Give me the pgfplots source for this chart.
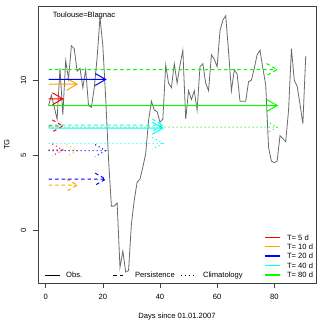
\documentclass[border=0pt]{standalone}
\usepackage{fontspec}
\setmainfont{Liberation Sans}
\usepackage{pgfplots}
\usepackage{pgfplotstable}
\pgfplotsset{compat=1.18}
\definecolor{rorange}{HTML}{FFA500}
\definecolor{rgreen}{HTML}{00FF00}
\definecolor{rcyan}{HTML}{00FFFF}
\definecolor{obsgray}{HTML}{6A6A6A}
\tikzset{
  obsl/.style={line width=1bp},
  pers/.style={line width=1bp, dash pattern=on 3.5bp off 3bp},
  clim/.style={line width=1bp, dash pattern=on 1bp off 3bp},
}

% daily mean temperature, Toulouse-Blagnac, days 1..91 of 2007
\pgfplotstableread{
d T
1 8.3
2 9.0
3 8.2
4 7.4
5 10.8
6 7.7
7 11.3
8 10.1
9 12.3
10 12.1
11 10.6
12 10.8
13 9.5
14 10.7
15 8.3
16 8.2
17 9.5
18 11.5
19 14.2
20 12.3
21 8.8
22 4.7
23 1.6
24 1.6
25 1.8
26 -2.5
27 -1.4
28 -2.8
29 -2.7
30 0.4
31 2.0
32 3.2
33 3.4
34 4.2
35 5.1
36 7.3
37 8.6
38 8.0
39 7.9
40 7.2
41 7.4
42 11.0
43 9.8
44 9.5
45 11.1
46 9.8
47 11.0
48 12.0
49 7.4
50 9.3
51 8.7
52 9.3
53 8.0
54 10.9
55 11.1
56 9.8
57 9.3
58 11.7
59 11.4
60 10.9
61 13.3
62 14.0
63 14.3
64 11.9
65 9.3
66 10.7
67 10.4
68 8.6
69 8.6
70 8.6
71 9.9
72 10.0
73 10.8
74 11.7
75 12.0
76 10.8
77 9.7
78 5.5
79 4.6
80 4.5
81 4.6
82 6.3
83 6.1
84 5.9
85 8.0
86 12.1
87 10.0
88 9.6
89 8.4
90 7.1
91 11.6
}\obs

\begin{document}
\fontsize{7.6bp}{9bp}\selectfont
\begin{tikzpicture}
\begin{axis}[
  scale only axis, width=278bp, height=277bp,
  xmin=-2.69, xmax=94.6, ymin=-3.53, ymax=14.95,
  xtick={0,20,40,60,80}, ytick={0,5,10,15},
  tick pos=left, tick align=outside, major tick length=5bp,
  axis line style={black!75, line width=0.6bp},
  every tick/.style={black!75, line width=0.6bp},
  /pgf/number format/assume math mode=true,
  ticklabel style={font=\fontsize{7.6bp}{9bp}\selectfont},
  xticklabel style={yshift=-3.5bp},
  yticklabel style={xshift=-4bp, rotate=90, anchor=south},
  xlabel={Days since 01.01.2007}, ylabel={TG},
  xlabel style={at={(axis description cs:0.5,-0.1217)}, anchor=center},
  ylabel style={at={(axis description cs:-0.112,0.5)}, anchor=center},
  unbounded coords=jump,
]
\addplot[obsgray, line width=0.8bp] table[x=d, y=T] {\obs};

% T = 5 d
\addplot[red, obsl] coordinates {(1,8.76) (6,8.76) (nan,nan) (2.33,9.16) (6,8.76) (2.33,8.36)};
\addplot[red, pers] coordinates {(1,6.95) (6,6.95) (nan,nan) (2.33,7.35) (6,6.95) (2.33,6.55)};
\addplot[red, clim] coordinates {(1,5.35) (6,5.35) (nan,nan) (2.33,5.75) (6,5.35) (2.33,4.95)};
% T = 10 d
\addplot[rorange, obsl] coordinates {(1,9.73) (11,9.73) (nan,nan) (7.33,10.13) (11,9.73) (7.33,9.33)};
\addplot[rorange, pers] coordinates {(1,3.0) (11,3.0) (nan,nan) (7.33,3.4) (11,3.0) (7.33,2.6)};
\addplot[rorange, clim] coordinates {(1,5.3) (11,5.3) (nan,nan) (7.33,5.7) (11,5.3) (7.33,4.9)};
% T = 20 d
\addplot[blue, obsl] coordinates {(1,10.05) (21,10.05) (nan,nan) (17.33,10.45) (21,10.05) (17.33,9.65)};
\addplot[blue, pers] coordinates {(1,3.4) (21,3.4) (nan,nan) (17.33,3.8) (21,3.4) (17.33,3.0)};
\addplot[blue, clim] coordinates {(1,5.3) (21,5.3) (nan,nan) (17.33,5.7) (21,5.3) (17.33,4.9)};
% T = 40 d
\addplot[rcyan, obsl] coordinates {(1,6.8) (41,6.8) (nan,nan) (37.33,7.2) (41,6.8) (37.33,6.4)};
\addplot[rcyan, pers] coordinates {(1,7.0) (41,7.0) (nan,nan) (37.33,7.4) (41,7.0) (37.33,6.6)};
\addplot[rcyan, clim] coordinates {(1,5.78) (41,5.78) (nan,nan) (37.33,6.18) (41,5.78) (37.33,5.38)};
% T = 80 d
\addplot[rgreen, obsl] coordinates {(1,8.31) (81,8.31) (nan,nan) (77.33,8.71) (81,8.31) (77.33,7.91)};
\addplot[rgreen, pers] coordinates {(1,10.71) (81,10.71) (nan,nan) (77.33,11.11) (81,10.71) (77.33,10.31)};
\addplot[rgreen, clim] coordinates {(1,6.87) (81,6.87) (nan,nan) (77.33,7.27) (81,6.87) (77.33,6.47)};

\node[anchor=west, inner sep=0] at (axis cs:2.45,14.33) {Toulouse=Blagnac};

% line-type legend
\draw[black, obsl] (axis cs:-0.25,-3.0) -- (axis cs:5.0,-3.0);
\node[anchor=west, inner sep=0] at (axis cs:7.1,-3.0) {Obs.};
\draw[black, pers] (axis cs:23.6,-3.0) -- (axis cs:27.8,-3.0);
\node[anchor=west, inner sep=0] at (axis cs:31.2,-3.0) {Persistence};
\draw[black, clim] (axis cs:47.2,-3.0) -- (axis cs:51.7,-3.0);
\node[anchor=west, inner sep=0] at (axis cs:55.0,-3.0) {Climatology};

% colour legend
\draw[red, line width=1.4bp] (axis cs:76.7,-0.49) -- (axis cs:82.0,-0.49);
\node[anchor=west, inner sep=0] at (axis cs:84.4,-0.49) {T= 5 d};
\draw[rorange, line width=1.4bp] (axis cs:76.7,-1.11) -- (axis cs:82.0,-1.11);
\node[anchor=west, inner sep=0] at (axis cs:84.4,-1.11) {T= 10 d};
\draw[blue, line width=1.4bp] (axis cs:76.7,-1.73) -- (axis cs:82.0,-1.73);
\node[anchor=west, inner sep=0] at (axis cs:84.4,-1.73) {T= 20 d};
\draw[rcyan, line width=1.4bp] (axis cs:76.7,-2.35) -- (axis cs:82.0,-2.35);
\node[anchor=west, inner sep=0] at (axis cs:84.4,-2.35) {T= 40 d};
\draw[rgreen, line width=1.4bp] (axis cs:76.7,-3.0) -- (axis cs:82.0,-3.0);
\node[anchor=west, inner sep=0] at (axis cs:84.4,-3.0) {T= 80 d};
\end{axis}
\path (current axis.south west) ++(-38bp,-41bp) rectangle ([shift={(4bp,6bp)}]current axis.north east);
\end{tikzpicture}
\end{document}
